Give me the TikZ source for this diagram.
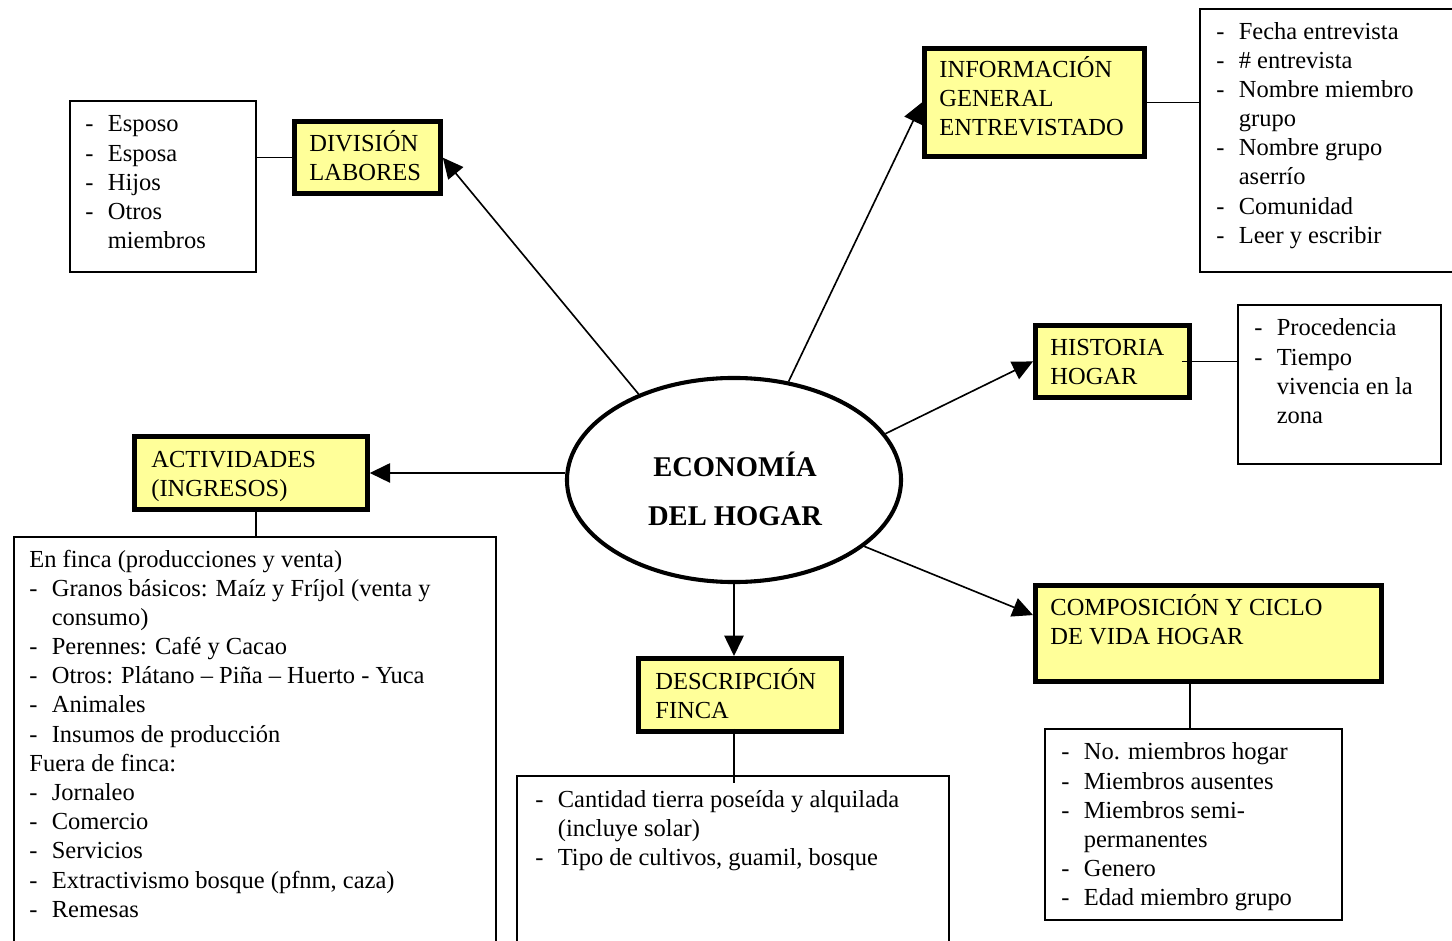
\documentclass[tikz,border=0pt]{standalone}
\usepackage{fontspec}
\setmainfont{Liberation Serif}
\usepackage{tikz}
\usetikzlibrary{arrows.meta,shapes.geometric,positioning}
\definecolor{boxyellow}{RGB}{255,255,153}
\newcommand{\dsh}{\makebox[11pt][l]{-}}
\newcommand{\ind}{\hspace*{11pt}}
\tikzset{
  topic/.style={rectangle,draw=black,line width=2.4pt,fill=boxyellow,anchor=north west,inner sep=0pt},
  listbox/.style={rectangle,draw=black,line width=0.8pt,anchor=north west,inner sep=0pt},
  txt/.style={anchor=base west,inner sep=0pt,align=left,font=\fontsize{12}{14.3}\selectfont},
  arr/.style={-{Triangle[length=10pt,width=9.5pt]},line width=0.8pt},
  lnk/.style={line width=0.8pt}
}

\begin{document}
\begin{tikzpicture}[x=0.49pt,y=-0.49pt]
\useasboundingbox (0,0) rectangle (1452,941);
\clip (0,0) rectangle (1452,941);

% centre (text placed by the baseline of its last line)
\node at (734,480)[ellipse,draw=black,line width=2pt,minimum width=163.7pt,minimum height=100pt,inner sep=0pt](c){};
\node at (735,526)[anchor=base,align=center,inner sep=0pt,font=\fontsize{14}{24.5}\selectfont\bfseries](ct){ECONOMÍA\\DEL HOGAR};

% topic boxes
\node at (292,119)[topic,minimum width=71.5pt,minimum height=35.5pt](div){};
\node at (922,46)[topic,minimum width=107.8pt,minimum height=52.9pt](info){};
\node at (1033,323)[topic,minimum width=75.5pt,minimum height=35.3pt](hist){};
\node at (132,434)[topic,minimum width=114.1pt,minimum height=35.8pt](act){};
\node at (636,656)[topic,minimum width=99.5pt,minimum height=35.8pt](desc){};
\node at (1033,583)[topic,minimum width=169.5pt,minimum height=47.1pt](comp){};

\node at (309,180.2)[txt](divt){DIVISIÓN\\LABORES};
\node at (939,135.4)[txt](infot){INFORMACIÓN\\GENERAL\\ENTREVISTADO};
\node at (1050,384.2)[txt](histt){HISTORIA\\HOGAR};
\node at (151,496.2)[txt](actt){ACTIVIDADES\\(INGRESOS)};
\node at (655,718.2)[txt](desct){DESCRIPCIÓN\\FINCA};
\node at (1050,644.2)[txt](compt){COMPOSICIÓN Y CICLO\\DE VIDA HOGAR};

% list boxes
\node at (69,100)[listbox,minimum width=91.1pt,minimum height=83.8pt](divl){};
\node at (1199,8)[listbox,minimum width=140pt,minimum height=128.9pt](infol){};
\node at (1237,304)[listbox,minimum width=99.5pt,minimum height=77.9pt](histl){};
\node at (13,536)[listbox,minimum width=236.2pt,minimum height=215pt](actl){};
\node at (516,775)[listbox,minimum width=211.7pt,minimum height=95pt](descl){};
\node at (1044,728)[listbox,minimum width=145.5pt,minimum height=93.6pt](compl){};

\node at (85,248.7)[txt](divlt){\dsh Esposo\\\dsh Esposa\\\dsh Hijos\\\dsh Otros\\\ind miembros};
\node at (1216,243.3)[txt](infolt){\dsh Fecha entrevista\\\dsh \# entrevista\\\dsh Nombre miembro\\\ind grupo\\\dsh Nombre grupo\\\ind aserrío\\\dsh Comunidad\\\dsh Leer y escribir};
\node at (1254,423.5)[txt](histlt){\dsh Procedencia\\\dsh Tiempo\\\ind vivencia en la\\\ind zona};
\node at (29,917.2)[txt](actlt){En finca (producciones y venta)\\\dsh Granos básicos: Maíz y Fríjol (venta y\\\ind consumo)\\\dsh Perennes: Café y Cacao\\\dsh Otros: Plátano – Piña – Huerto - Yuca\\\dsh Animales\\\dsh Insumos de producción\\Fuera de finca:\\\dsh Jornaleo\\\dsh Comercio\\\dsh Servicios\\\dsh Extractivismo bosque (pfnm, caza)\\\dsh Remesas};
\node at (535,865.4)[txt](desclt){\dsh Cantidad tierra poseída y alquilada\\\ind (incluye solar)\\\dsh Tipo de cultivos, guamil, bosque};
\node at (1061,905.9)[txt](complt){\dsh No. miembros hogar\\\dsh Miembros ausentes\\\dsh Miembros semi-\\\ind permanentes\\\dsh Genero\\\dsh Edad miembro grupo};

% arrows
\draw[arr] (c.138) -- (div.east);
\draw[arr] (c.61) -- (info.west);
\draw[arr] (c.17) -- (hist.west);
\draw[arr] (c.west |- act.east) -- (act.east);
\draw[arr] (c.south) -- (c.south |- desc.north);
\draw[arr] (c.-27) -- (comp.174);

% links
\draw[lnk] (div.west) -- (div.west -| divl.east);
\draw[lnk] (info.east) -- (info.east -| infol.west);
\draw[lnk] ([xshift=-5pt]hist.east) -- (hist.east -| histl.west);
\draw[lnk] ([xshift=2.5pt]act.south) -- ([xshift=2.5pt]act.south |- actl.north);
\draw[lnk] ([yshift=2.5pt]c.south |- desc.south) -- ([yshift=-4pt]c.south |- descl.north);
\draw[lnk] ([xshift=-1.5pt]compl.north) -- ([xshift=-1.5pt]compl.north |- comp.south);
\end{tikzpicture}
\end{document}
